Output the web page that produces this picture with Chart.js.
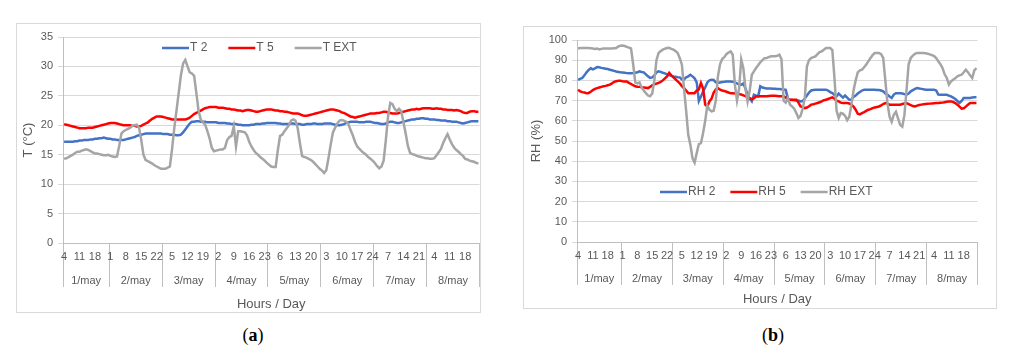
<!DOCTYPE html>
<html>
<head>
<meta charset="utf-8">
<script src="https://cdn.jsdelivr.net/npm/chart.js@4.4.0/dist/chart.umd.min.js"></script>
<style>
  body { margin: 0; background: #fff; width: 1010px; height: 356px; position: relative; overflow: hidden; }
  .panel { position: absolute; border: 1px solid #d9d9d9; box-sizing: border-box; background: #fff; }
  .panel canvas { display: block; }
  .caption { position: absolute; font-family: "Liberation Serif", "Times New Roman", serif; font-size: 18px; color: #000; transform: translateX(-50%); }
</style>
</head>
<body>
<div class="panel" style="left:16px; top:23px; width:465px; height:290px;"><canvas id="chartT" width="463" height="288"></canvas></div>
<div class="panel" style="left:523px; top:26px; width:474px; height:283px;"><canvas id="chartRH" width="472" height="281"></canvas></div>
<div class="caption" style="left:253px; top:325px;">(<b>a</b>)</div>
<div class="caption" style="left:773px; top:325px;">(<b>b</b>)</div>

<script>
// days and hours shown on the x axis
const days = ['1/may', '2/may', '3/may', '4/may', '5/may', '6/may', '7/may', '8/may'];
const firstHour = [4, 1, 1, 1, 1, 1, 1, 1];
const hoursPerDay = [21, 24, 24, 24, 24, 24, 24, 24];
const labelEvery = 7;

// temperature (°C), one value per hour
const tempT2 = [
  17.2, 17.2, 17.2, 17.2, 17.2, 17.3, 17.3, 17.4, 17.4, 17.5, 17.5, 17.5, 17.6, 17.6, 17.7, 17.7, 17.8, 17.8, 17.9, 17.8, 17.7,
  17.7, 17.6, 17.6, 17.5, 17.5, 17.5, 17.5, 17.6, 17.7, 17.8, 17.9, 18.0, 18.2, 18.3, 18.4, 18.5, 18.6, 18.6, 18.6, 18.6, 18.6, 18.6, 18.6, 18.6,
  18.5, 18.5, 18.5, 18.4, 18.4, 18.4, 18.3, 18.3, 18.4, 18.8, 19.3, 19.8, 20.3, 20.6, 20.6, 20.7, 20.7, 20.6, 20.6, 20.6, 20.5, 20.5, 20.5, 20.5,
  20.5, 20.4, 20.4, 20.4, 20.4, 20.3, 20.3, 20.2, 20.2, 20.2, 20.1, 20.1, 20.0, 20.0, 20.0, 20.0, 20.1, 20.1, 20.2, 20.2, 20.2, 20.3, 20.3, 20.4,
  20.4, 20.4, 20.4, 20.4, 20.3, 20.3, 20.2, 20.2, 20.2, 20.2, 20.3, 20.3, 20.2, 20.2, 20.2, 20.1, 20.1, 20.2, 20.2, 20.2, 20.3, 20.3, 20.2, 20.2,
  20.2, 20.3, 20.3, 20.3, 20.3, 20.2, 20.1, 20.0, 20.0, 20.1, 20.2, 20.4, 20.5, 20.6, 20.6, 20.6, 20.6, 20.5, 20.5, 20.5, 20.6, 20.6, 20.6, 20.5,
  20.4, 20.4, 20.3, 20.2, 20.2, 20.3, 20.5, 20.6, 20.6, 20.5, 20.4, 20.4, 20.5, 20.6, 20.7, 20.8, 20.9, 21.0, 21.0, 21.1, 21.1, 21.2, 21.2, 21.1,
  21.1, 21.0, 21.0, 21.0, 20.9, 20.9, 20.8, 20.8, 20.8, 20.7, 20.7, 20.6, 20.6, 20.6, 20.5, 20.4, 20.3, 20.4, 20.5, 20.6, 20.7, 20.7, 20.7, 20.7
];
const tempT5 = [
  20.2, 20.1, 20.0, 19.9, 19.8, 19.7, 19.6, 19.5, 19.5, 19.5, 19.5, 19.6, 19.6, 19.6, 19.7, 19.8, 19.9, 20.0, 20.1, 20.2, 20.3,
  20.4, 20.4, 20.4, 20.3, 20.2, 20.1, 20.0, 20.0, 20.0, 20.0, 19.9, 19.9, 19.8, 19.8, 19.9, 20.1, 20.3, 20.5, 20.8, 21.1, 21.3, 21.5, 21.5, 21.5,
  21.4, 21.3, 21.2, 21.1, 21.0, 21.0, 21.0, 21.0, 21.0, 21.0, 21.0, 21.1, 21.3, 21.6, 21.9, 22.1, 22.3, 22.5, 22.7, 22.9, 23.0, 23.1, 23.1, 23.1,
  23.1, 23.0, 23.0, 23.0, 22.9, 22.8, 22.8, 22.7, 22.7, 22.6, 22.5, 22.5, 22.4, 22.5, 22.6, 22.6, 22.5, 22.4, 22.3, 22.3, 22.4, 22.5, 22.6, 22.7,
  22.7, 22.7, 22.6, 22.5, 22.5, 22.4, 22.4, 22.3, 22.3, 22.2, 22.1, 22.0, 22.0, 22.0, 21.9, 21.7, 21.6, 21.6, 21.7, 21.8, 21.9, 22.0, 22.1, 22.2,
  22.3, 22.4, 22.5, 22.6, 22.7, 22.7, 22.6, 22.5, 22.4, 22.2, 22.1, 21.9, 21.7, 21.5, 21.4, 21.3, 21.4, 21.5, 21.6, 21.7, 21.8, 21.9, 22.0, 22.0,
  22.0, 22.1, 22.1, 22.2, 22.3, 22.3, 22.2, 22.1, 22.0, 22.0, 22.0, 22.1, 22.2, 22.3, 22.4, 22.5, 22.6, 22.7, 22.7, 22.8, 22.7, 22.8, 22.9, 22.9,
  22.9, 22.9, 22.8, 22.8, 22.9, 22.8, 22.8, 22.7, 22.7, 22.6, 22.6, 22.6, 22.5, 22.6, 22.5, 22.4, 22.2, 22.1, 22.1, 22.3, 22.4, 22.4, 22.3, 22.3
];
const tempExt = [
  14.3, 14.4, 14.6, 14.8, 15.0, 15.3, 15.5, 15.5, 15.7, 15.8, 15.9, 15.8, 15.6, 15.4, 15.2, 15.2, 15.1, 15.0, 14.9, 14.9, 15.0,
  14.8, 14.7, 14.6, 14.7, 16.5, 18.6, 19.0, 19.2, 19.4, 19.6, 19.9, 20.0, 20.1, 19.6, 17.5, 15.0, 14.1, 13.9, 13.7, 13.5, 13.2, 13.0, 12.8, 12.6,
  12.6, 12.6, 12.8, 13.0, 16.0, 19.5, 22.5, 25.5, 28.5, 30.5, 31.1, 30.0, 29.0, 28.8, 28.4, 25.5, 22.5, 21.0, 20.5, 20.1, 19.0, 17.8, 16.2, 15.6,
  15.7, 15.8, 15.9, 15.9, 16.2, 17.5, 18.0, 18.2, 19.8, 16.4, 19.0, 19.0, 18.9, 18.8, 18.3, 17.2, 16.4, 15.8, 15.3, 15.0, 14.6, 14.3, 14.0, 13.6,
  13.3, 13.0, 12.9, 12.9, 15.8, 18.2, 18.4, 19.0, 19.5, 20.0, 20.8, 21.0, 20.8, 19.5, 17.0, 14.8, 14.6, 14.5, 14.3, 14.1, 13.8, 13.4, 13.0, 12.6,
  12.3, 11.9, 12.4, 14.5, 16.8, 18.8, 19.6, 20.3, 20.8, 20.9, 20.8, 20.6, 20.2, 19.2, 18.3, 17.2, 16.4, 16.0, 15.6, 15.3, 15.0, 14.6, 14.3, 14.0,
  13.6, 13.1, 12.7, 13.0, 14.0, 17.5, 21.5, 23.8, 23.6, 22.8, 22.4, 22.8, 22.4, 20.5, 18.6, 16.5, 15.3, 15.1, 15.0, 14.8, 14.7, 14.6, 14.5, 14.4,
  14.4, 14.3, 14.3, 14.4, 14.9, 15.4, 16.0, 17.0, 17.8, 18.5, 17.6, 16.8, 16.2, 15.8, 15.5, 15.1, 14.8, 14.3, 14.2, 14.0, 13.9, 13.8, 13.6, 13.5
];

// relative humidity (%), one value per hour
const rh2 = [
  80.3, 80.8, 81.2, 82.5, 84.0, 85.2, 86.0, 85.5, 86.0, 86.6, 86.5, 86.2, 86.0, 85.8, 85.6, 85.3, 85.0, 84.7, 84.4, 84.2, 84.0,
  83.9, 83.8, 83.6, 83.5, 83.5, 83.6, 83.8, 84.0, 84.5, 84.2, 84.0, 83.0, 82.0, 81.2, 81.5, 82.5, 84.0, 84.5, 84.2, 83.8, 83.5, 83.0, 82.6, 82.3,
  82.0, 81.8, 81.6, 81.5, 80.5, 80.5, 81.5, 82.0, 82.8, 82.0, 81.0, 79.0, 69.8, 72.0, 74.5, 76.5, 79.0, 80.0, 80.3, 80.2, 79.0, 78.8, 79.0, 79.2,
  79.3, 79.5, 79.5, 79.5, 79.3, 79.0, 78.5, 78.0, 77.9, 78.5, 76.0, 72.9, 71.0, 69.6, 72.9, 72.5, 72.1, 77.1, 76.5, 76.2, 76.0, 76.0, 76.0, 75.9,
  75.9, 75.8, 75.7, 75.6, 75.5, 75.3, 71.0, 70.4, 70.3, 70.2, 70.0, 70.0, 69.6, 69.8, 71.0, 72.5, 74.0, 75.0, 75.2, 75.4, 75.4, 75.4, 75.4, 75.4,
  75.4, 75.0, 74.2, 73.7, 72.8, 72.1, 73.5, 72.5, 71.5, 72.5, 71.5, 70.4, 70.5, 71.8, 72.5, 73.5, 74.3, 75.0, 75.4, 75.4, 75.4, 75.4, 75.4, 75.4,
  75.3, 75.2, 75.0, 74.6, 73.5, 72.9, 72.0, 71.3, 73.0, 73.7, 73.7, 73.7, 73.5, 73.2, 72.9, 73.5, 74.6, 75.2, 75.8, 76.2, 76.0, 75.8, 75.6, 75.4,
  75.4, 75.4, 75.4, 75.4, 75.0, 73.0, 72.9, 72.9, 72.9, 72.9, 72.5, 72.1, 71.5, 70.8, 69.8, 68.8, 69.8, 71.3, 71.3, 71.3, 71.3, 71.5, 71.6, 71.6
];
const rh5 = [
  75.4, 74.6, 74.2, 74.0, 73.7, 73.8, 74.4, 75.2, 75.8, 76.2, 76.5, 76.8, 77.1, 77.3, 77.6, 77.9, 78.5, 79.3, 79.6, 79.8, 79.8,
  79.6, 79.5, 79.5, 78.8, 78.2, 77.6, 77.1, 76.9, 76.8, 76.6, 76.5, 76.4, 76.2, 76.8, 77.6, 78.0, 78.4, 78.8, 79.2, 80.0, 81.0, 82.0, 83.7, 82.5,
  81.5, 80.5, 79.5, 78.5, 77.2, 76.2, 75.0, 73.7, 73.7, 73.7, 73.7, 75.0, 75.6, 78.7, 76.0, 68.0, 67.1, 69.6, 71.0, 74.0, 75.5, 76.2, 75.4, 75.0,
  74.8, 74.4, 74.0, 73.7, 73.7, 73.5, 73.4, 73.2, 73.0, 72.6, 72.2, 71.6, 71.2, 70.6, 71.2, 72.0, 72.1, 72.1, 72.1, 72.1, 72.2, 72.3, 72.4, 72.4,
  72.4, 72.3, 72.2, 72.2, 72.1, 71.5, 70.6, 70.4, 70.4, 70.4, 70.4, 69.0, 67.1, 66.8, 66.3, 66.6, 67.2, 68.0, 68.2, 68.5, 68.8, 69.2, 69.6, 70.2,
  70.4, 70.8, 71.2, 71.6, 71.0, 70.0, 69.6, 69.0, 68.8, 68.8, 68.8, 68.6, 68.0, 67.0, 65.5, 63.5, 63.2, 63.8, 64.3, 64.9, 65.5, 65.8, 66.3, 66.6,
  66.8, 67.1, 67.6, 68.3, 68.8, 68.5, 68.0, 68.0, 68.0, 68.0, 68.0, 68.0, 68.3, 68.6, 68.8, 68.3, 67.8, 67.3, 67.1, 67.5, 67.8, 68.0, 68.2, 68.3,
  68.4, 68.5, 68.6, 68.7, 68.8, 68.8, 68.9, 69.0, 69.2, 69.4, 69.6, 69.6, 69.3, 68.8, 68.0, 67.0, 66.0, 66.2, 67.0, 68.0, 68.8, 68.8, 68.8, 68.8
];
const rhExt = [
  95.8, 96.0, 96.0, 96.0, 96.0, 96.0, 95.9, 95.8, 95.6, 95.8, 95.3, 95.6, 95.8, 95.8, 95.8, 95.8, 95.8, 95.9, 96.0, 96.8, 97.2,
  97.3, 97.0, 96.6, 96.2, 95.8, 88.0, 79.0, 78.5, 79.0, 76.5, 75.0, 73.7, 72.5, 72.1, 73.5, 80.0, 90.0, 93.6, 94.5, 95.2, 95.7, 96.0, 96.1, 95.6,
  95.2, 94.5, 93.6, 91.0, 87.8, 76.0, 65.0, 53.1, 48.2, 41.5, 39.3, 44.0, 48.5, 49.0, 54.0, 60.0, 67.5, 65.5, 64.7, 65.0, 70.0, 82.0, 88.0, 90.6,
  91.5, 93.0, 93.8, 94.4, 92.7, 78.0, 70.0, 76.0, 90.3, 86.0, 76.0, 69.6, 75.0, 82.8, 84.5, 86.1, 87.5, 89.0, 90.0, 91.0, 91.1, 91.5, 91.9, 91.9,
  91.9, 92.2, 92.7, 90.5, 70.0, 69.0, 71.3, 68.0, 67.1, 66.0, 63.8, 61.4, 62.5, 66.0, 71.3, 87.0, 90.0, 91.1, 91.5, 91.9, 93.0, 94.0, 94.4, 95.2,
  96.0, 96.0, 96.0, 95.0, 81.2, 65.0, 61.4, 63.8, 63.5, 62.5, 60.3, 62.0, 68.0, 75.0, 80.0, 84.0, 85.0, 85.3, 86.5, 87.8, 89.5, 91.1, 92.5, 93.6,
  93.6, 93.6, 93.0, 91.1, 80.0, 68.8, 62.0, 59.5, 63.0, 64.5, 61.2, 58.0, 57.1, 62.8, 75.0, 88.0, 91.1, 92.3, 93.2, 93.6, 93.6, 93.6, 93.6, 93.4,
  93.2, 92.9, 92.5, 92.0, 91.1, 89.5, 88.0, 86.1, 83.0, 81.2, 77.9, 79.5, 80.3, 81.0, 82.0, 82.5, 82.8, 84.0, 85.3, 84.0, 82.5, 81.2, 85.0, 86.1
];

// hour label for every point, day borders and day centres in point units
const hourLabels = [];
const dayBorders = [-0.5];
const dayCenters = [];
hoursPerDay.forEach((n, d) => {
  for (let h = 0; h < n; h++) hourLabels.push(String(firstHour[d] + h));
  const end = hourLabels.length - 0.5;
  dayCenters.push((dayBorders[d] + end) / 2);
  dayBorders.push(end);
});
const hourTicks = hourLabels.map((_, i) => i).filter(i => i % labelEvery === 0);
const xTicks = hourTicks.concat(dayBorders).sort((a, b) => a - b);

Chart.defaults.font.family = '"Liberation Sans", Arial, sans-serif';
Chart.defaults.color = '#595959';

// legend drawn inside the plot like the original Excel one
const insideLegend = {
  id: 'insideLegend',
  afterDraw(chart, args, opts) {
    const { ctx, chartArea } = chart;
    let x = chartArea.left + opts.x;
    const y = chartArea.top + opts.y;
    ctx.save();
    ctx.font = '12px "Liberation Sans", Arial, sans-serif';
    ctx.textBaseline = 'middle';
    chart.data.datasets.forEach(ds => {
      ctx.strokeStyle = ds.borderColor;
      ctx.lineWidth = 2.5;
      ctx.beginPath();
      ctx.moveTo(x, y);
      ctx.lineTo(x + 27, y);
      ctx.stroke();
      ctx.fillStyle = '#595959';
      ctx.fillText(ds.label, x + 28, y);
      x += 28 + ctx.measureText(ds.label).width + opts.gap;
    });
    ctx.restore();
  }
};

function lineChart(canvasId, cfg) {
  const xMax = hourLabels.length - 0.5;
  return new Chart(document.getElementById(canvasId), {
    type: 'line',
    data: {
      datasets: cfg.series.map((s, k) => ({
        label: s.label,
        data: s.values.map((v, i) => ({ x: i, y: v })),
        borderColor: s.color,
        borderWidth: 2.5,
        pointRadius: 0,
        order: cfg.series.length - k
      }))
    },
    options: {
      responsive: false,
      animation: false,
      layout: { padding: { top: 13, right: cfg.padRight, left: 0, bottom: 0 } },
      plugins: {
        legend: { display: false },
        tooltip: { enabled: false },
        insideLegend: cfg.legend
      },
      scales: {
        x: {
          type: 'linear', position: 'bottom', weight: 0, min: -0.5, max: xMax,
          afterBuildTicks: scale => { scale.ticks = xTicks.map(v => ({ value: v })); },
          afterFit: scale => { scale.height = 20; },
          ticks: {
            autoSkip: false, maxRotation: 0, padding: cfg.hourPad, font: { size: 11 },
            callback: v => Number.isInteger(v) ? hourLabels[v] : ''
          },
          grid: {
            drawOnChartArea: false,
            tickLength: cfg.divLen,
            color: ctx => Number.isInteger(ctx.tick.value) ? 'rgba(0,0,0,0)' : '#bfbfbf'
          },
          border: { color: '#bfbfbf' }
        },
        xDay: {
          type: 'linear', position: 'bottom', weight: 1, min: -0.5, max: xMax,
          afterBuildTicks: scale => { scale.ticks = dayCenters.map(v => ({ value: v })); },
          afterFit: scale => { scale.height = cfg.dayHeight; },
          ticks: {
            autoSkip: false, maxRotation: 0, padding: cfg.dayPad, font: { size: 11 },
            callback: (v, i) => days[i]
          },
          grid: { display: false },
          border: { display: false },
          title: { display: true, text: 'Hours / Day', font: { size: 13 }, padding: { top: 0, bottom: cfg.titlePad } }
        },
        y: {
          min: 0, max: cfg.yMax,
          afterFit: scale => { scale.width = cfg.yWidth; },
          ticks: { stepSize: cfg.yStep, padding: 5, font: { size: 11 } },
          grid: { color: '#d9d9d9', tickLength: 5 },
          border: { color: '#bfbfbf' },
          title: { display: true, text: cfg.yTitle, font: { size: 13 }, padding: { top: cfg.yTitlePad, bottom: 0 } }
        }
      }
    },
    plugins: [insideLegend]
  });
}

lineChart('chartT', {
  series: [
    { label: 'T 2', values: tempT2, color: '#4472C4' },
    { label: 'T 5', values: tempT5, color: '#FF0000' },
    { label: 'T EXT', values: tempExt, color: '#A5A5A5' }
  ],
  yMax: 35, yStep: 5, yTitle: 'T (°C)', yWidth: 46, yTitlePad: 3.2,
  padRight: 0.5, hourPad: -36.3, divLen: 44, dayHeight: 49, dayPad: 3.4, titlePad: -0.5,
  legend: { x: 99, y: 11, gap: 21 }
});

lineChart('chartRH', {
  series: [
    { label: 'RH 2', values: rh2, color: '#4472C4' },
    { label: 'RH 5', values: rh5, color: '#FF0000' },
    { label: 'RH EXT', values: rhExt, color: '#A5A5A5' }
  ],
  yMax: 100, yStep: 10, yTitle: 'RH (%)', yWidth: 53, yTitlePad: 4.9,
  padRight: 18.5, hourPad: -35.6, divLen: 43, dayHeight: 46, dayPad: 2.7, titlePad: 0.9,
  legend: { x: 83, y: 152, gap: 15 }
});
</script>
</body>
</html>
